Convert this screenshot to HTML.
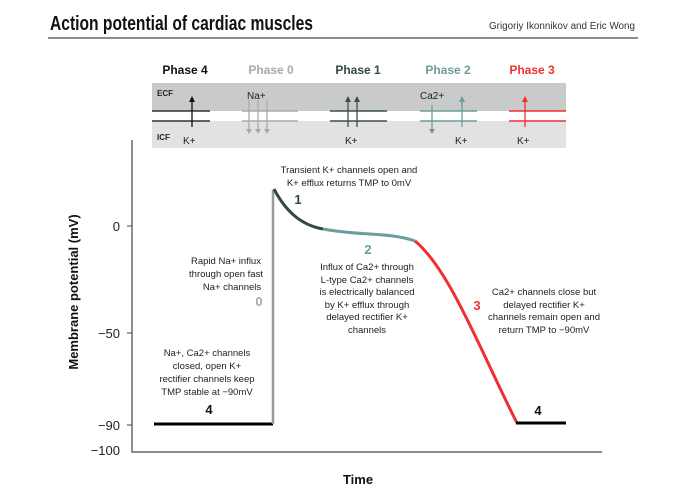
<!DOCTYPE html>
<html><head><meta charset="utf-8"><style>
html,body{margin:0;padding:0;background:#fff;}
svg{display:block;font-family:"Liberation Sans",sans-serif;}
</style></head><body>
<svg width="680" height="504" viewBox="0 0 680 504" xmlns="http://www.w3.org/2000/svg">
<rect width="680" height="504" fill="#fff"/>
<text x="50" y="30" font-size="20" font-weight="bold" fill="#111" textLength="263" lengthAdjust="spacingAndGlyphs">Action potential of cardiac muscles</text>
<text x="635" y="29" font-size="10" fill="#333" text-anchor="end" textLength="146" lengthAdjust="spacingAndGlyphs">Grigoriy Ikonnikov and Eric Wong</text>
<line x1="48" y1="38" x2="638" y2="38" stroke="#666" stroke-width="1.5"/>

<!-- phase header -->
<g font-size="12" font-weight="bold">
<text x="185" y="74" text-anchor="middle" fill="#111">Phase 4</text>
<text x="271" y="74" text-anchor="middle" fill="#aaa">Phase 0</text>
<text x="358" y="74" text-anchor="middle" fill="#2f4a44">Phase 1</text>
<text x="448" y="74" text-anchor="middle" fill="#6a9e9a">Phase 2</text>
<text x="532" y="74" text-anchor="middle" fill="#f03030">Phase 3</text>
</g>
<rect x="152" y="83" width="414" height="28" fill="#c9cbcb"/>
<rect x="152" y="111" width="414" height="10" fill="#fff"/>
<rect x="152" y="121" width="414" height="27" fill="#e2e2e2"/>
<text x="157" y="96" font-size="8" font-weight="bold" fill="#222">ECF</text>
<text x="157" y="140" font-size="8" font-weight="bold" fill="#222">ICF</text>
<g stroke-width="1.5">
<line x1="152" y1="111" x2="210" y2="111" stroke="#333"/><line x1="152" y1="121" x2="210" y2="121" stroke="#333"/>
<line x1="242" y1="111" x2="298" y2="111" stroke="#aaa"/><line x1="242" y1="121" x2="298" y2="121" stroke="#aaa"/>
<line x1="330" y1="111" x2="387" y2="111" stroke="#3a514b"/><line x1="330" y1="121" x2="387" y2="121" stroke="#3a514b"/>
<line x1="420" y1="111" x2="477" y2="111" stroke="#6a9e9a"/><line x1="420" y1="121" x2="477" y2="121" stroke="#6a9e9a"/>
<line x1="509" y1="111" x2="566" y2="111" stroke="#f03030"/><line x1="509" y1="121" x2="566" y2="121" stroke="#f03030"/>
</g>
<g stroke-width="1.3">
<line x1="192" y1="127" x2="192" y2="98" stroke="#111"/><polygon points="189,102 195,102 192,96" fill="#111"/>
<g stroke="#aaa" fill="#aaa">
<line x1="249" y1="100" x2="249" y2="131"/><polygon points="246,129 252,129 249,134" stroke="none"/>
<line x1="258" y1="100" x2="258" y2="131"/><polygon points="255,129 261,129 258,134" stroke="none"/>
<line x1="267" y1="100" x2="267" y2="131"/><polygon points="264,129 270,129 267,134" stroke="none"/>
</g>
<g stroke="#3a514b" fill="#3a514b">
<line x1="348" y1="127" x2="348" y2="98"/><polygon points="345,102 351,102 348,96" stroke="none"/>
<line x1="357" y1="127" x2="357" y2="98"/><polygon points="354,102 360,102 357,96" stroke="none"/>
</g>
<g stroke="#6a9e9a" fill="#6a9e9a">
<line x1="432" y1="105" x2="432" y2="131"/><polygon points="429,129 435,129 432,134" stroke="none"/>
<line x1="462" y1="127" x2="462" y2="98"/><polygon points="459,102 465,102 462,96" stroke="none"/>
</g>
<g stroke="#f03030" fill="#f03030">
<line x1="525" y1="127" x2="525" y2="98"/><polygon points="522,102 528,102 525,96" stroke="none"/>
</g>
</g>
<g font-size="10" fill="#222">
<text x="183" y="144">K+</text>
<text x="247" y="99">Na+</text>
<text x="345" y="144">K+</text>
<text x="420" y="99">Ca2+</text>
<text x="455" y="144">K+</text>
<text x="517" y="144">K+</text>
</g>

<!-- axes -->
<polyline points="132,140 132,452 602,452" fill="none" stroke="#444" stroke-width="1.2"/>
<g stroke="#444" stroke-width="1"><line x1="127" y1="226" x2="132" y2="226"/><line x1="127" y1="333" x2="132" y2="333"/><line x1="127" y1="425" x2="132" y2="425"/></g>
<g font-size="13" fill="#222" text-anchor="end">
<text x="120" y="231">0</text>
<text x="120" y="338">−50</text>
<text x="120" y="430">−90</text>
<text x="120" y="455">−100</text>
</g>
<text transform="translate(78,292) rotate(-90)" font-size="13" font-weight="bold" text-anchor="middle" fill="#111">Membrane potential (mV)</text>
<text x="358" y="484" font-size="13" font-weight="bold" text-anchor="middle" fill="#111">Time</text>

<!-- curve -->
<line x1="154" y1="424" x2="273" y2="424" stroke="#000" stroke-width="3"/>
<line x1="273" y1="424" x2="273" y2="190" stroke="#999" stroke-width="2.5"/>
<path d="M274,189 C285,210 300,225 323,229" fill="none" stroke="#2f4a44" stroke-width="3"/>
<path d="M323,229 C360,236 390,232 415,241" fill="none" stroke="#6a9e9a" stroke-width="3"/>
<path d="M415,241 C450,270 480,350 517,423" fill="none" stroke="#f03030" stroke-width="3"/>
<line x1="516" y1="423" x2="566" y2="423" stroke="#000" stroke-width="3"/>

<!-- annotations -->
<g font-size="9.5" fill="#222" text-anchor="middle">
<text x="349" y="173">Transient K+ channels open and</text>
<text x="349" y="186">K+ efflux returns TMP to 0mV</text>
<text x="226" y="264">Rapid Na+ influx</text>
<text x="226" y="277">through open fast</text>
<text x="232" y="290">Na+ channels</text>
<text x="207" y="356">Na+, Ca2+ channels</text>
<text x="207" y="369">closed, open K+</text>
<text x="207" y="382">rectifier channels keep</text>
<text x="207" y="395">TMP stable at −90mV</text>
<text x="367" y="270">Influx of Ca2+ through</text>
<text x="367" y="283">L-type Ca2+ channels</text>
<text x="367" y="295">is electrically balanced</text>
<text x="367" y="308">by K+ efflux through</text>
<text x="367" y="320">delayed rectifier K+</text>
<text x="367" y="333">channels</text>
<text x="544" y="295">Ca2+ channels close but</text>
<text x="544" y="308">delayed rectifier K+</text>
<text x="544" y="320">channels remain open and</text>
<text x="544" y="333">return TMP to −90mV</text>
</g>
<g font-size="13" font-weight="bold" text-anchor="middle">
<text x="298" y="204" fill="#2f4a44">1</text>
<text x="259" y="306" fill="#aaa">0</text>
<text x="209" y="414" fill="#111">4</text>
<text x="368" y="254" fill="#6a9e9a">2</text>
<text x="477" y="310" fill="#f03030">3</text>
<text x="538" y="415" fill="#111">4</text>
</g>
</svg>
</body></html>
